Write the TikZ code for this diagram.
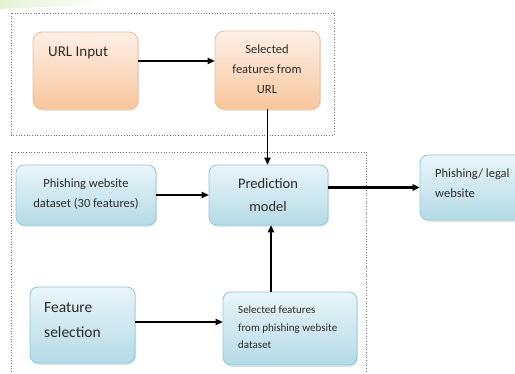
\documentclass[tikz,border=0pt]{standalone}
\usepackage{fontspec}
\setmainfont{Carlito}
\usetikzlibrary{shadows,arrows.meta}
\definecolor{otop}{HTML}{FDF0E7}
\definecolor{obot}{HTML}{F8C69C}
\definecolor{oborder}{HTML}{F5BC90}
\definecolor{btop}{HTML}{E9F5F9}
\definecolor{bbot}{HTML}{B4DBE6}
\definecolor{bborder}{HTML}{8ECADB}
\definecolor{txt}{HTML}{2B2B2B}
\definecolor{glow}{HTML}{E3F2D2}
\begin{document}
\begin{tikzpicture}[x=1pt,y=-1pt,
  obox/.style={draw=oborder, line width=0.8pt, rounded corners=9pt, top color=otop, bottom color=obot,
    drop shadow={opacity=0.22, shadow xshift=1pt, shadow yshift=-1.8pt}, inner sep=0pt},
  bbox/.style={draw=bborder, line width=0.8pt, rounded corners=8pt, top color=btop, bottom color=bbot,
    drop shadow={opacity=0.22, shadow xshift=1pt, shadow yshift=-1.8pt}, inner sep=0pt},
  lbl/.style={inner sep=0pt, text=txt},
  arr/.style={-{Triangle[length=7pt,width=6.5pt]}, line width=1.3pt, draw=black},
  frame/.style={draw=black!55, dotted, line width=0.7pt}
]
\clip (0,0) rectangle (515,374);
\useasboundingbox (0,0) rectangle (515,374);
\fill[white] (0,0) rectangle (515,374);
% faint green glow top-left
\shade[left color=glow, right color=white] (0,0) -- (105,0) -- (92,5) -- (0,9) -- cycle;

% dotted frames
\draw[frame] (11,13) rectangle (334,135);
\draw[frame] (11,380) -- (11,152) -- (366,152) -- (366,380);

% boxes
\node[obox, minimum width=105pt, minimum height=77pt] (url) at (85.5,70.5) {};
\node[obox, minimum width=105pt, minimum height=78pt] (selurl) at (267.5,70) {};
\node[bbox, minimum width=140pt, minimum height=60pt] (pd) at (86,195) {};
\node[bbox, minimum width=119pt, minimum height=60pt] (pred) at (268.5,195) {};
\node[bbox, minimum width=115pt, minimum height=65pt] (legal) at (477.5,187.5) {};
\node[bbox, minimum width=105pt, minimum height=76pt] (fs) at (82.5,325) {};
\node[bbox, minimum width=134pt, minimum height=73pt] (selph) at (290,328.5) {};

% texts
\node[lbl, anchor=base west, font=\fontsize{15}{18}\selectfont] (urlt) at (48,57) {URL Input};

\node[lbl, anchor=base, font=\fontsize{12.5}{15}\selectfont] (su1) at (267,54) {Selected};
\node[lbl, anchor=base, font=\fontsize{12.5}{15}\selectfont] (su2) at (267,74) {features from};
\node[lbl, anchor=base, font=\fontsize{12.5}{15}\selectfont] (su3) at (267,94) {URL};

\node[lbl, anchor=base, font=\fontsize{12.5}{15}\selectfont] (pd1) at (86,188) {Phishing website};
\node[lbl, anchor=base, font=\fontsize{12.5}{15}\selectfont] (pd2) at (86,208) {dataset (30 features)};

\node[lbl, anchor=base, font=\fontsize{14.5}{17}\selectfont] (pr1) at (268,189) {Prediction};
\node[lbl, anchor=base, font=\fontsize{14.5}{17}\selectfont] (pr2) at (268,212) {model};

\node[lbl, anchor=base west, font=\fontsize{12.5}{15}\selectfont] (lg1) at (435,178) {Phishing/ legal};
\node[lbl, anchor=base west, font=\fontsize{12.5}{15}\selectfont] (lg2) at (435,198) {website};

\node[lbl, anchor=base west, font=\fontsize{15.5}{18}\selectfont] (fs1) at (44,313) {Feature};
\node[lbl, anchor=base west, font=\fontsize{15.5}{18}\selectfont] (fs2) at (44,338) {selection};

\node[lbl, anchor=base west, font=\fontsize{11}{13}\selectfont] (sp1) at (238,314) {Selected features};
\node[lbl, anchor=base west, font=\fontsize{11}{13}\selectfont] (sp2) at (238,332) {from phishing website};
\node[lbl, anchor=base west, font=\fontsize{11}{13}\selectfont] (sp3) at (238,349) {dataset};

% connectors
\coordinate (c1) at (url.east |- 0,61);
\draw[arr] (c1) -- (c1 -| selurl.west);
\draw[arr] (selurl.south) -- (selurl.south |- pred.north);
\draw[arr] (pd.east) -- (pred.west);
\draw[arr, line width=2.3pt] (pred.east |- legal.west) -- (legal.west);
\coordinate (c2) at (fs.east |- 0,322);
\draw[arr] (c2) -- (c2 -| selph.west);
\coordinate (c3) at (271,0);
\draw[arr] (c3 |- selph.north) -- (c3 |- pred.south);
\end{tikzpicture}
\end{document}
